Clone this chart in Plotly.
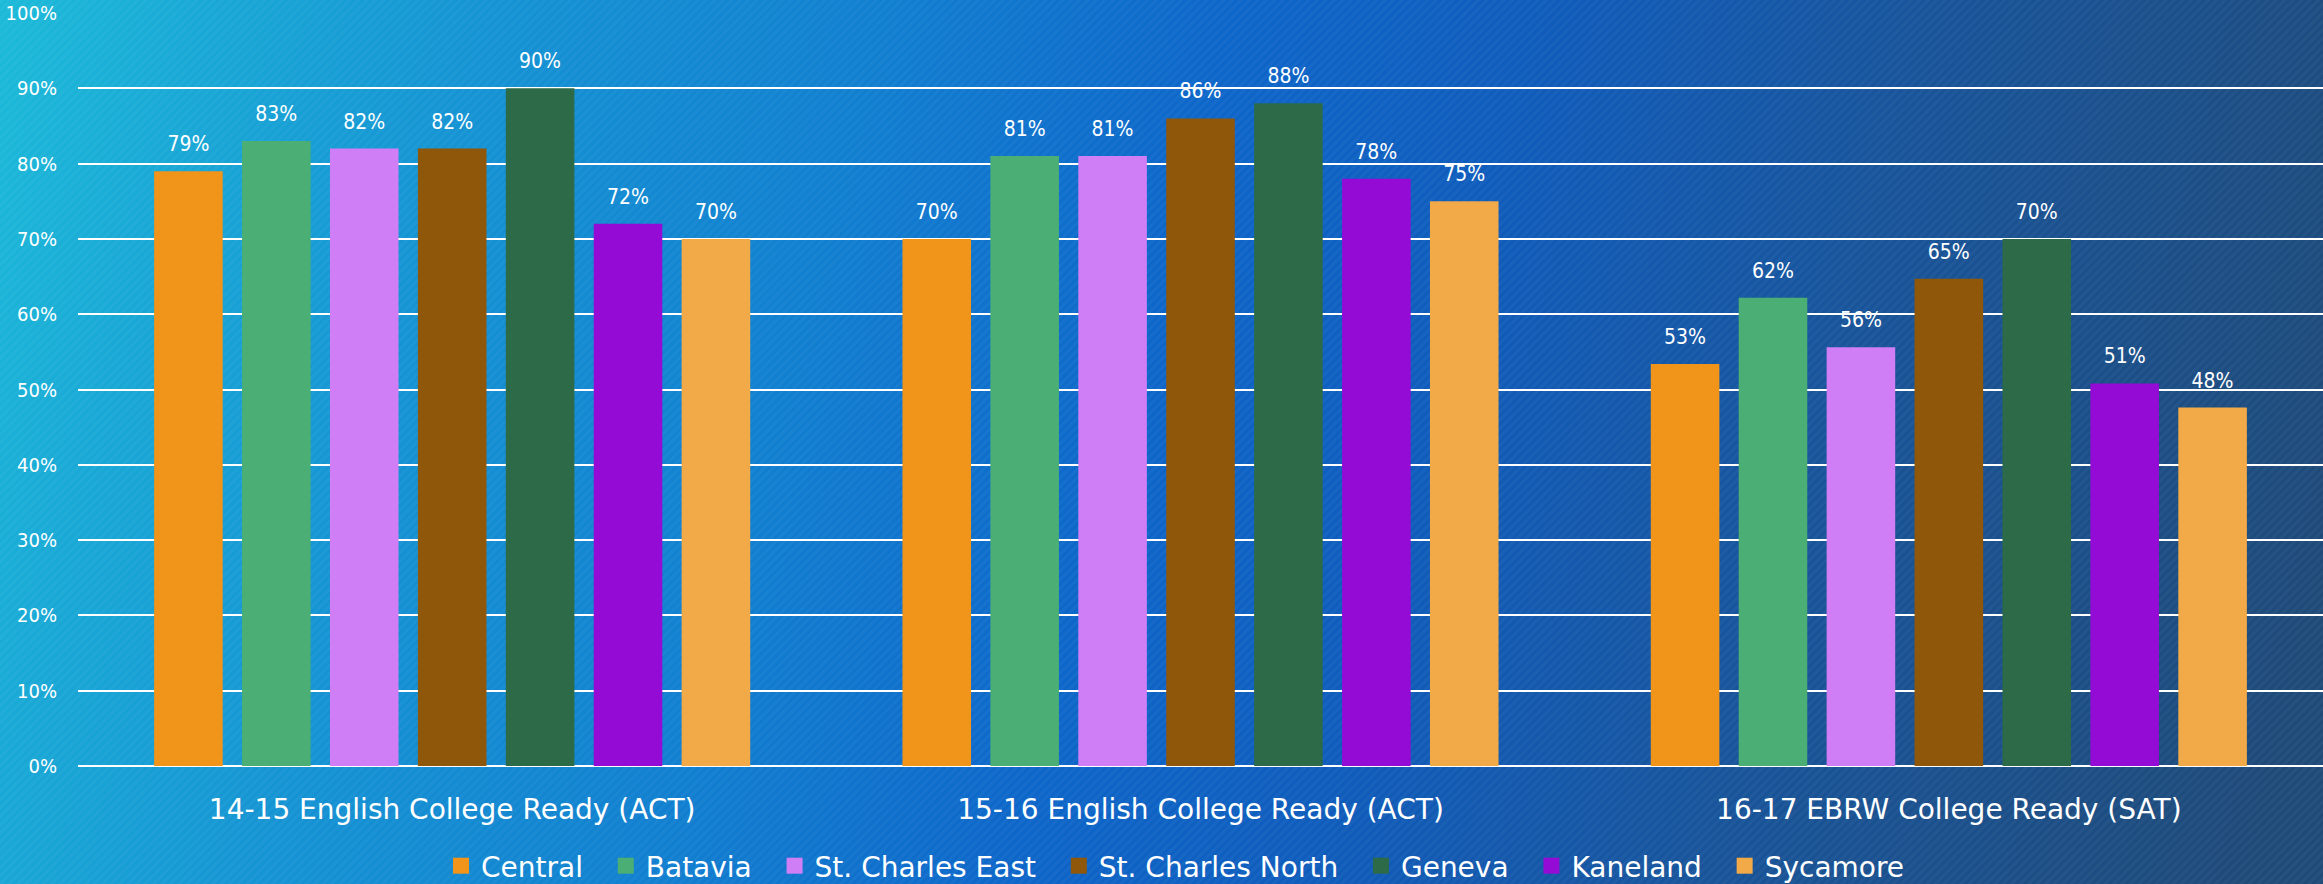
import base64
import plotly.graph_objects as go

# ---------------- data ----------------
categories = [
    "14-15 English College Ready (ACT)",
    "15-16 English College Ready (ACT)",
    "16-17 EBRW College Ready (SAT)",
]
schools = ["Central", "Batavia", "St. Charles East", "St. Charles North",
           "Geneva", "Kaneland", "Sycamore"]
central = [79, 70, 53.4]
batavia = [83, 81, 62.2]
st_charles_east = [82, 81, 55.6]
st_charles_north = [82, 86, 64.7]
geneva = [90, 88, 70.0]
kaneland = [72, 78, 50.8]
sycamore = [70, 75, 47.6]
series = [central, batavia, st_charles_east, st_charles_north, geneva, kaneland, sycamore]
y_ticks = [0, 10, 20, 30, 40, 50, 60, 70, 80, 90, 100]

# ---------------- styles ----------------
colors = ["#F0941A", "#4BAE74", "#CF7EF6", "#8F570A", "#2D6B48", "#940BD6", "#F2A947"]
W, H = 2323, 884
ML, MR, MT, MB = 78, 0, 13, 118
LABEL_FONT = "DejaVu Sans Condensed, Roboto, sans-serif"
TEXT_FONT = "DejaVu Sans, Verdana, sans-serif"
BARGAP = 0.1776
PAD = "\u00a0\u00a0"

svg = f"""<svg xmlns='http://www.w3.org/2000/svg' width='{W}' height='{H}' viewBox='0 0 {W} {H}' preserveAspectRatio='none'>
<defs>
<linearGradient id='g' gradientUnits='userSpaceOnUse' x1='0' y1='0' x2='{W}' y2='600'>
<stop offset='0' stop-color='#1cbad9'/>
<stop offset='0.08' stop-color='#19a9d6'/>
<stop offset='0.2' stop-color='#1593d3'/>
<stop offset='0.35' stop-color='#1180d0'/>
<stop offset='0.5' stop-color='#0d66c9'/>
<stop offset='0.62' stop-color='#0f5cbc'/>
<stop offset='0.78' stop-color='#18549a'/>
<stop offset='1' stop-color='#1e4a78'/>
</linearGradient>
<pattern id='p' width='6' height='6' patternUnits='userSpaceOnUse' patternTransform='rotate(45)'>
<rect width='3' height='6' fill='#ffffff' fill-opacity='0.035'/>
</pattern>
</defs>
<rect width='{W}' height='{H}' fill='url(#g)'/>
<rect width='{W}' height='{H}' fill='url(#p)'/>
</svg>"""
bg_src = "data:image/svg+xml;base64," + base64.b64encode(svg.encode()).decode()

fig = go.Figure()
for name, vals, col in zip(schools, series, colors):
    fig.add_trace(go.Bar(
        x=categories, y=vals, name=name, marker=dict(color=col, line=dict(width=0)),
        offsetgroup=name, showlegend=False, hoverinfo="skip",
    ))
for name, vals, col in zip(schools, series, colors):
    fig.add_trace(go.Scatter(
        x=categories, y=vals, mode="markers+text", offsetgroup=name,
        marker=dict(size=22, opacity=0, color=col),
        text=[f"{v:.0f}%" for v in vals], textposition="top center",
        textfont=dict(family=LABEL_FONT, size=21, color="white"),
        showlegend=False, hoverinfo="skip", cliponaxis=False,
    ))
for name, col in zip(schools, colors):
    fig.add_trace(go.Scatter(
        x=[None], y=[None], mode="markers", name=name + PAD,
        marker=dict(symbol="square", size=16, color=col), hoverinfo="skip",
    ))

plot_w = W - ML - MR
plot_h = H - MT - MB
fig.update_layout(
    width=W, height=H,
    margin=dict(l=ML, r=MR, t=MT, b=MB, autoexpand=False),
    paper_bgcolor="#1273c9", plot_bgcolor="rgba(0,0,0,0)",
    barmode="group", bargap=BARGAP, bargroupgap=0.22,
    scattermode="group", scattergap=BARGAP,
    images=[dict(source=bg_src, xref="paper", yref="paper",
                 x=-ML / plot_w, y=1 + MT / plot_h,
                 sizex=W / plot_w, sizey=H / plot_h,
                 xanchor="left", yanchor="top", sizing="stretch", layer="below")],
    legend=dict(orientation="h", x=(1184 - ML) / plot_w, xanchor="center",
                y=-(866 - (H - MB)) / plot_h, yanchor="middle",
                font=dict(family=TEXT_FONT, size=28, color="white"),
                bgcolor="rgba(0,0,0,0)", itemwidth=30, traceorder="normal"),
    showlegend=True,
)
fig.update_xaxes(
    type="category", categoryorder="array", categoryarray=categories,
    showgrid=False, showline=False, ticks="",
    tickfont=dict(family=TEXT_FONT, size=28, color="white"),
    ticklabelstandoff=24,
)
fig.update_yaxes(
    range=[0, 100], tickvals=y_ticks, ticktext=[f"{t}%" for t in y_ticks],
    showgrid=True, gridcolor="white", gridwidth=2,
    zeroline=True, zerolinecolor="white", zerolinewidth=2,
    showline=False, ticks="",
    tickfont=dict(family=LABEL_FONT, size=20, color="white"),
    ticklabelstandoff=20,
)
fig.write_html(
    "out.html",
    config={"displayModeBar": False},
    post_script="document.body.style.margin='0';document.body.style.padding='0';"
                "document.body.style.overflow='hidden';",
)
